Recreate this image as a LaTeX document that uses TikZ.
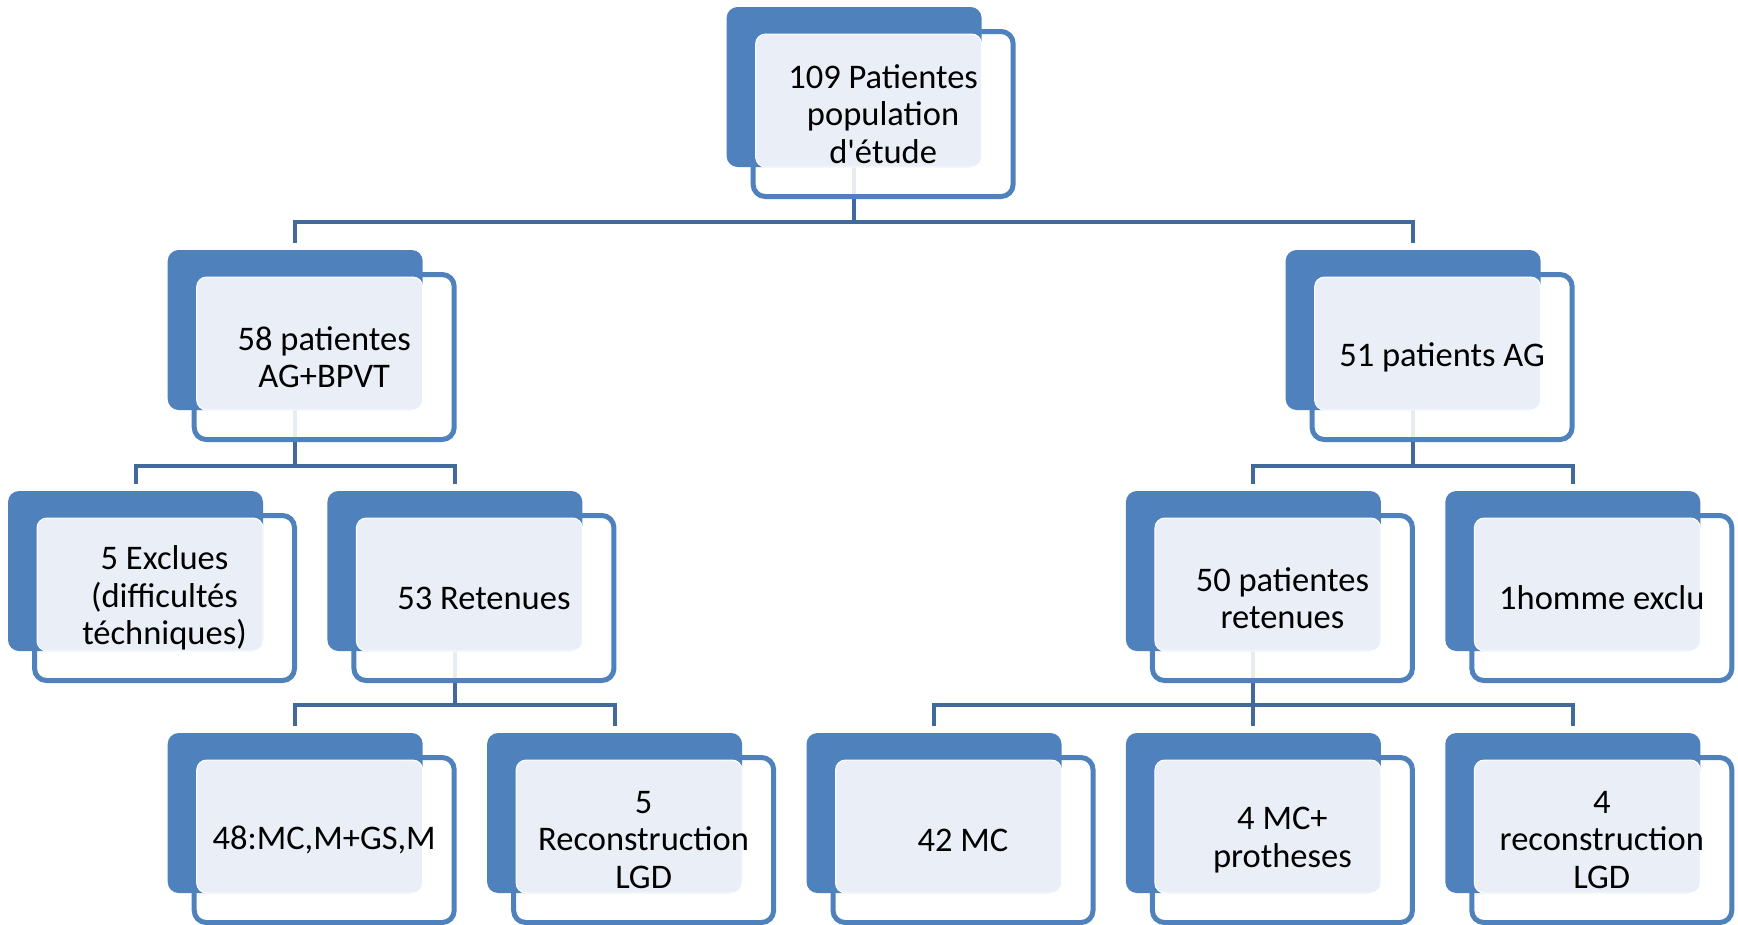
\documentclass[tikz,border=0pt]{standalone}
\usepackage{fontspec}
\setmainfont{Carlito}
\usetikzlibrary{backgrounds,calc}
\definecolor{boxblue}{HTML}{4F81BD}
\definecolor{boxlight}{HTML}{EAEFF7}
\definecolor{linkblue}{HTML}{41699B}
\tikzset{
 backbox/.style={fill=boxblue, rounded corners=11pt, minimum width=255pt, minimum height=160pt, inner sep=0pt, outer sep=0pt, anchor=north west},
 framebox/.style={draw=boxblue, line width=5pt, fill=white, fill opacity=0.88, rounded corners=12pt, minimum width=260pt, minimum height=165pt, inner sep=0pt, outer sep=0pt, anchor=north west},
 textbox/.style={fill=boxlight, draw=white, line width=1pt, rounded corners=10pt, minimum width=226pt, minimum height=133pt, inner sep=0pt, outer sep=0pt, anchor=north west},
 boxtext/.style={align=center, font=\fontsize{34.5}{37.5}\selectfont, inner sep=0pt},
 link/.style={draw=linkblue, line width=4pt},
}
\newcommand\unitbox[4]{%
 \node[framebox] (#1-b) at (#2+26.5,#3+24.5) {};
 \node[backbox] (#1-a) at (#2,#3) {};
 \node[textbox] (#1-c) at (#2+29,#3+27) {};
 \node[boxtext] (#1) at (#1-b.center) {#4};
}
\begin{document}
\begin{tikzpicture}[x=1pt,y=-1pt]
\useasboundingbox (0,0) rectangle (1738,924);
% level 0
\unitbox{top}{726.6}{7}{109 Patientes\\population\\d\textquotesingle étude}
% level 1
\unitbox{g58}{167.7}{250}{58 patientes\\AG+BPVT}
\unitbox{g51}{1285.6}{250}{51 patients AG}
% level 2
\unitbox{ex5}{8}{491}{5 Exclues\\(difficultés\\téchniques)}
\unitbox{ret53}{327.4}{491}{53 Retenues}
\unitbox{ret50}{1125.9}{491}{50 patientes\\retenues}
\unitbox{ex1}{1445.3}{491}{1homme exclu}
% level 3
\unitbox{c48}{167.7}{733}{48:MC,M+GS,M}
\unitbox{c5r}{487.1}{733}{5\\Reconstruction\\LGD}
\unitbox{c42}{806.5}{733}{42 MC}
\unitbox{c4mc}{1125.9}{733}{4 MC+\\protheses}
\unitbox{c4r}{1445.3}{733}{4\\reconstruction\\LGD}
% connectors
\begin{pgfonlayer}{background}
\draw[link] (top-a.south) -- ++(0,55) coordinate (j0);
\draw[link] (j0) -| ($(g58-a.north)+(0,-7)$);
\draw[link] (j0) -| ($(g51-a.north)+(0,-7)$);
\draw[link] (g58-a.south) -- ++(0,56) coordinate (j1);
\draw[link] (j1) -| ($(ex5-a.north)+(0,-7)$);
\draw[link] (j1) -| ($(ret53-a.north)+(0,-7)$);
\draw[link] (g51-a.south) -- ++(0,56) coordinate (j2);
\draw[link] (j2) -| ($(ret50-a.north)+(0,-7)$);
\draw[link] (j2) -| ($(ex1-a.north)+(0,-7)$);
\draw[link] (ret53-a.south) -- ++(0,54) coordinate (j3);
\draw[link] (j3) -| ($(c48-a.north)+(0,-7)$);
\draw[link] (j3) -| ($(c5r-a.north)+(0,-7)$);
\draw[link] (ret50-a.south) -- ++(0,54) coordinate (j4);
\draw[link] (j4) -| ($(c42-a.north)+(0,-7)$);
\draw[link] (j4) -| ($(c4mc-a.north)+(0,-7)$);
\draw[link] (j4) -| ($(c4r-a.north)+(0,-7)$);
\end{pgfonlayer}
\end{tikzpicture}
\end{document}
